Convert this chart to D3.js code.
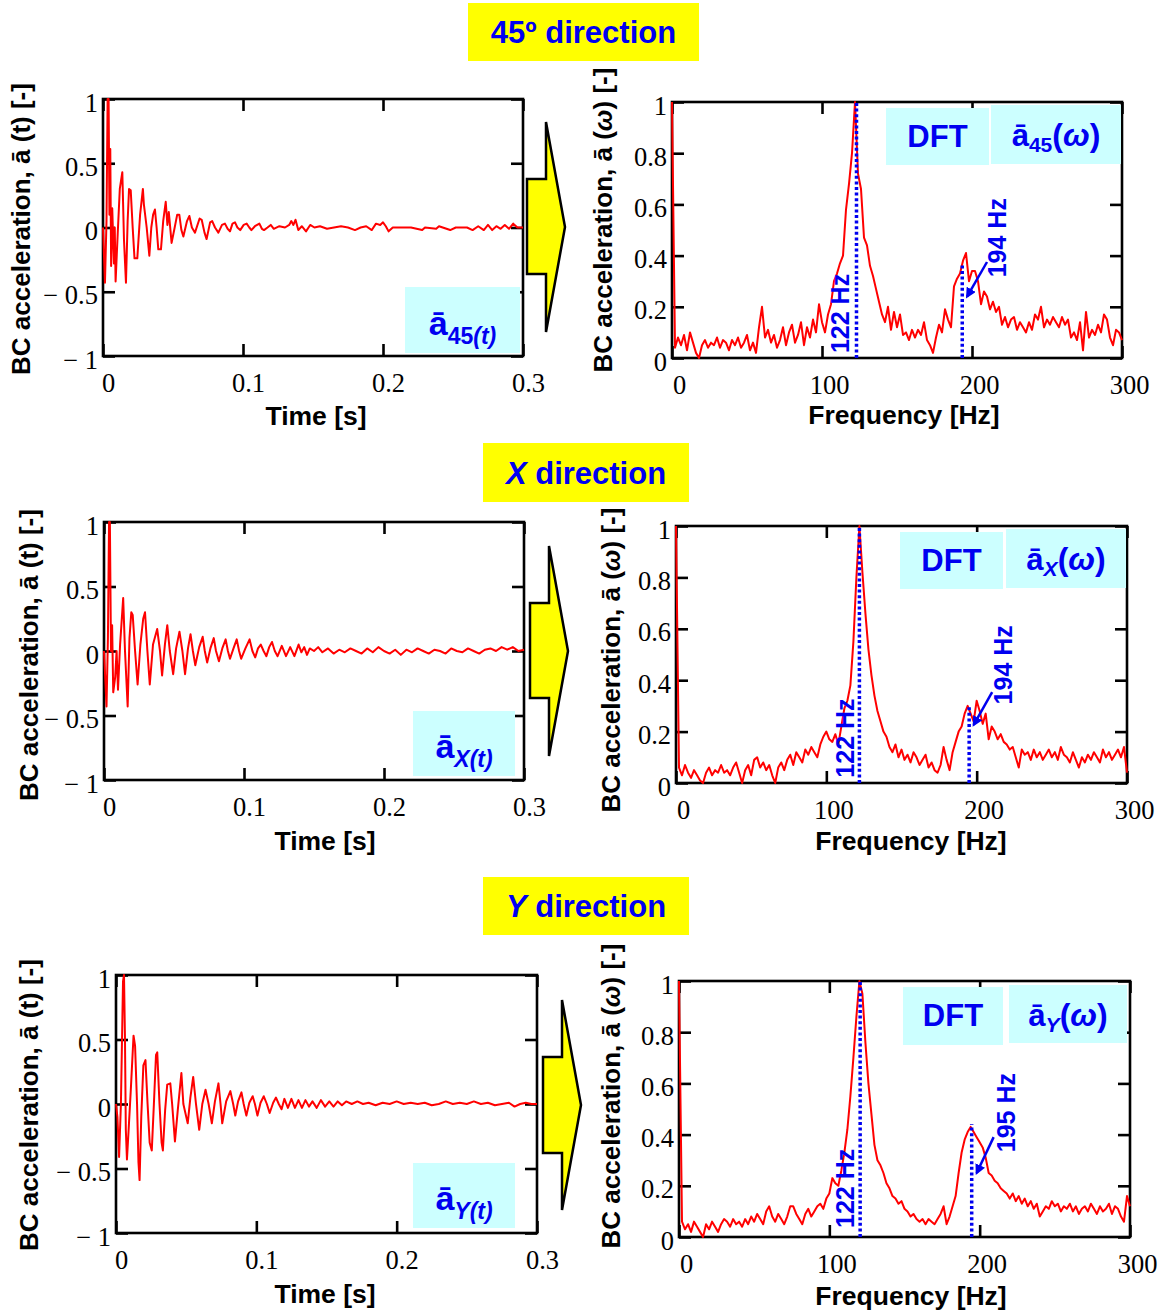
<!DOCTYPE html>
<html><head><meta charset="utf-8">
<script src="https://cdn.jsdelivr.net/npm/d3@7/dist/d3.min.js"></script>
<style>html,body{margin:0;padding:0;background:#fff;}svg{display:block;}</style>
</head><body>
<svg id="c" width="1164" height="1310"></svg>
<script>
// ================= DATA =================
const directions = ["45º", "X", "Y"];
const subscripts = ["45", "X", "Y"];

const timeTickValues = [0, 0.1, 0.2, 0.3];
const timeTickLabels = ["0", "0.1", "0.2", "0.3"];
const accTickValues = [-1, -0.5, 0, 0.5, 1];
const accTickLabels = ["− 1", "− 0.5", "0", "0.5", "1"];
const freqTickValues = [0, 100, 200, 300];
const freqTickLabels = ["0", "100", "200", "300"];
const specTickValues = [0, 0.2, 0.4, 0.6, 0.8, 1];
const specTickLabels = ["0", "0.2", "0.4", "0.6", "0.8", "1"];

// time histories [t (s), normalised acceleration]
const time45 = [[0,0],[0.0014,-0.43],[0.0025,0.05],[0.0033,1.0],[0.0040,1.0],[0.0046,0.1],[0.0052,0.61],[0.0058,-0.3],[0.0066,0.15],[0.0078,-0.28],[0.0084,0.0],[0.0090,-0.42],[0.0105,-0.05],[0.0120,0.30],[0.0138,0.43],[0.0150,-0.10],[0.0164,-0.43],[0.0176,0.05],[0.0186,0.30],[0.0198,0.29],[0.0212,0.0],[0.0225,-0.24],[0.0245,-0.24],[0.0265,0.10],[0.0285,0.30],[0.0292,0.18],[0.0312,0.0],[0.0331,-0.22],[0.0345,0.0],[0.0358,0.10],[0.0371,0.14],[0.0383,0.0],[0.0395,-0.17],[0.0414,-0.17],[0.0430,0.05],[0.0448,0.20],[0.0460,0.02],[0.0470,0.12],[0.0490,-0.12],[0.0512,0.0],[0.0530,0.10],[0.0545,0.10],[0.0560,-0.02],[0.0574,-0.07],[0.0600,0.05],[0.0617,0.09],[0.0635,0.0],[0.0657,-0.04],[0.0690,0.07],[0.0705,0.06],[0.0725,-0.04],[0.0740,-0.09],[0.0765,0.04],[0.0780,0.05],[0.0800,0.0],[0.0824,-0.04],[0.0850,0.02],[0.0871,0.03],[0.0890,-0.01],[0.0907,-0.03],[0.0925,0.03],[0.0943,0.04],[0.0960,0.0],[0.0980,-0.02],[0.1005,0.02],[0.1026,0.03],[0.1045,0.0],[0.1060,-0.02],[0.1085,0.01],[0.1117,0.03],[0.1135,-0.01],[0.1150,-0.02],[0.1175,0.0],[0.1198,0.02],[0.1220,-0.01],[0.1260,0.01],[0.1300,0.0],[0.1330,0.02],[0.1345,0.05],[0.1360,0.02],[0.1375,0.06],[0.1395,-0.02],[0.1420,0.01],[0.1450,-0.03],[0.1480,0.02],[0.1510,0.0],[0.1550,0.01],[0.1600,-0.01],[0.1650,0.0],[0.1700,0.01],[0.1750,0.0],[0.1800,-0.02],[0.1840,0.0],[0.1880,0.01],[0.1920,-0.02],[0.1950,0.03],[0.1980,0.02],[0.2000,0.04],[0.2020,0.01],[0.2040,-0.03],[0.2070,0.0],[0.2120,0.0],[0.2200,0.0],[0.2280,-0.02],[0.2300,0.0],[0.2380,-0.01],[0.2400,0.01],[0.2480,-0.02],[0.2520,0.0],[0.2600,0.0],[0.2640,-0.02],[0.2680,0.01],[0.2720,-0.02],[0.2750,0.02],[0.2780,-0.02],[0.2810,0.01],[0.2840,-0.01],[0.2870,0.02],[0.2900,-0.01],[0.2930,0.03],[0.2960,0.0],[0.3000,0.0]];

const timeX = [[0,0],[0.0018,-0.43],[0.0028,0.1],[0.0036,1.0],[0.0042,1.0],[0.0050,0.0],[0.0058,0.2],[0.0066,-0.32],[0.0080,-0.20],[0.0090,0.0],[0.0100,-0.3],[0.0115,0.05],[0.0137,0.41],[0.0150,0.0],[0.0169,-0.43],[0.0182,0.1],[0.0195,0.30],[0.0205,0.28],[0.0222,0.0],[0.0240,-0.26],[0.0260,0.05],[0.0280,0.25],[0.0293,0.30],[0.0310,0.0],[0.0327,-0.26],[0.0350,0.05],[0.0380,0.17],[0.0400,0.0],[0.0415,-0.19],[0.0435,0.05],[0.0452,0.20],[0.0470,0.0],[0.0494,-0.18],[0.0515,0.02],[0.0539,0.15],[0.0560,0.0],[0.0579,-0.18],[0.0600,0.02],[0.0618,0.13],[0.0635,0.0],[0.0652,-0.11],[0.0680,0.03],[0.0705,0.11],[0.0720,0.0],[0.0737,-0.09],[0.0760,0.02],[0.0784,0.10],[0.0800,0.0],[0.0821,-0.08],[0.0845,0.02],[0.0869,0.09],[0.0885,0.0],[0.0900,-0.06],[0.0925,0.02],[0.0948,0.09],[0.0965,0.0],[0.0980,-0.06],[0.1010,0.02],[0.1040,0.09],[0.1060,0.0],[0.1080,-0.05],[0.1100,0.02],[0.1120,0.05],[0.1140,0.0],[0.1160,-0.04],[0.1180,0.03],[0.1200,0.07],[0.1220,0.0],[0.1240,-0.04],[0.1270,0.04],[0.1300,-0.04],[0.1330,0.03],[0.1360,-0.04],[0.1390,0.05],[0.1410,-0.01],[0.1430,0.03],[0.1450,-0.03],[0.1470,0.02],[0.1500,0.0],[0.1530,0.03],[0.1560,-0.01],[0.1600,0.02],[0.1640,-0.02],[0.1680,0.01],[0.1720,-0.01],[0.1760,0.02],[0.1800,0.0],[0.1840,-0.02],[0.1880,0.02],[0.1920,-0.01],[0.1960,0.03],[0.2000,0.0],[0.2040,-0.02],[0.2080,0.01],[0.2120,-0.03],[0.2160,0.01],[0.2200,-0.01],[0.2240,0.02],[0.2280,0.0],[0.2320,-0.02],[0.2360,0.01],[0.2400,0.0],[0.2440,-0.02],[0.2480,0.02],[0.2520,0.0],[0.2560,-0.01],[0.2600,0.02],[0.2640,0.0],[0.2680,-0.02],[0.2720,0.01],[0.2760,0.02],[0.2800,0.0],[0.2840,0.03],[0.2880,0.01],[0.2920,0.03],[0.2960,0.0],[0.3000,0.01]];

const timeY = [[0,0],[0.0010,-0.1],[0.0022,-0.41],[0.0035,0.0],[0.0050,0.95],[0.0057,1.0],[0.0064,0.5],[0.0070,-0.2],[0.0078,-0.43],[0.0090,-0.2],[0.0105,0.1],[0.0125,0.53],[0.0136,0.45],[0.0150,0.0],[0.0160,-0.45],[0.0168,-0.59],[0.0180,-0.1],[0.0195,0.30],[0.0210,0.34],[0.0225,0.0],[0.0240,-0.30],[0.0255,-0.36],[0.0270,0.0],[0.0285,0.38],[0.0294,0.40],[0.0310,0.0],[0.0325,-0.30],[0.0334,-0.36],[0.0350,-0.05],[0.0365,0.15],[0.0387,0.16],[0.0400,0.0],[0.0420,-0.29],[0.0440,-0.05],[0.0466,0.24],[0.0480,0.0],[0.0511,-0.15],[0.0530,0.05],[0.0550,0.21],[0.0570,0.0],[0.0593,-0.20],[0.0615,0.0],[0.0638,0.11],[0.0660,0.0],[0.0683,-0.15],[0.0705,0.02],[0.0730,0.16],[0.0745,0.0],[0.0757,-0.15],[0.0785,0.02],[0.0815,0.10],[0.0835,0.0],[0.0850,-0.09],[0.0870,0.02],[0.0894,0.09],[0.0910,0.0],[0.0929,-0.09],[0.0950,0.01],[0.0974,0.06],[0.0990,0.0],[0.1008,-0.09],[0.1030,0.01],[0.1053,0.06],[0.1075,0.0],[0.1095,-0.07],[0.1120,0.01],[0.1140,0.05],[0.1160,0.0],[0.1180,-0.04],[0.1200,0.04],[0.1225,-0.03],[0.1250,0.04],[0.1275,-0.03],[0.1300,0.03],[0.1325,-0.03],[0.1350,0.03],[0.1375,-0.02],[0.1400,0.02],[0.1430,-0.03],[0.1460,0.03],[0.1490,-0.02],[0.1520,0.02],[0.1550,-0.02],[0.1580,0.02],[0.1610,-0.01],[0.1640,0.02],[0.1680,0.0],[0.1720,0.02],[0.1760,0.0],[0.1800,0.01],[0.1850,-0.01],[0.1900,0.01],[0.1950,0.0],[0.2000,0.02],[0.2050,0.0],[0.2100,0.01],[0.2150,0.0],[0.2200,0.01],[0.2250,-0.01],[0.2300,0.0],[0.2350,0.02],[0.2400,0.0],[0.2450,0.01],[0.2500,0.0],[0.2550,0.02],[0.2600,0.0],[0.2650,0.01],[0.2700,-0.01],[0.2750,0.0],[0.2800,0.01],[0.2840,-0.02],[0.2880,0.0],[0.2920,0.01],[0.2960,0.0],[0.3000,0.0]];

// DFT frequency grid (Hz) and amplitudes
const freqGrid = [0,2,4,6,8,10,12,14,16,18,20,22,24,26,28,30,32,34,36,38,40,42,44,46,48,50,52,54,56,58,60,62,64,66,68,70,72,74,76,78,80,82,84,86,88,90,92,94,96,98,100,102,104,106,108,110,112,114,116,118,120,122,124,126,128,130,132,134,136,138,140,142,144,146,148,150,152,154,156,158,160,162,164,166,168,170,172,174,176,178,180,182,184,186,188,190,192,194,196,198,200,202,204,206,208,210,212,214,216,218,220,222,224,226,228,230,232,234,236,238,240,242,244,246,248,250,252,254,256,258,260,262,264,266,268,270,272,274,276,278,280,282,284,286,288,290,292,294,296,298,300];

const spec45 = [1.00,0.04,0.08,0.05,0.09,0.03,0.10,0.06,0.02,0.00,
0.05,0.07,0.04,0.06,0.05,0.08,0.04,0.07,0.06,0.03,
0.07,0.05,0.08,0.04,0.06,0.09,0.03,0.06,0.02,0.12,
0.20,0.08,0.11,0.06,0.09,0.04,0.07,0.12,0.05,0.10,
0.13,0.06,0.09,0.14,0.05,0.12,0.08,0.15,0.10,0.21,
0.14,0.10,0.17,0.21,0.30,0.33,0.37,0.40,0.58,0.68,
0.80,1.00,0.72,0.66,0.47,0.44,0.36,0.32,0.27,0.22,
0.17,0.14,0.20,0.11,0.18,0.12,0.17,0.09,0.10,0.07,
0.11,0.08,0.11,0.09,0.14,0.07,0.05,0.02,0.08,0.13,
0.10,0.19,0.15,0.12,0.28,0.31,0.33,0.38,0.41,0.30,
0.34,0.34,0.30,0.21,0.26,0.24,0.19,0.22,0.18,0.20,
0.13,0.16,0.12,0.15,0.16,0.11,0.14,0.12,0.10,0.14,
0.11,0.17,0.15,0.20,0.12,0.15,0.13,0.16,0.14,0.12,
0.16,0.13,0.15,0.08,0.10,0.07,0.14,0.03,0.18,0.08,
0.11,0.09,0.13,0.10,0.17,0.15,0.08,0.05,0.11,0.10,
0.07];

const specX = [1.00,0.06,0.03,0.07,0.04,0.02,0.05,0.03,0.01,0.00,
0.04,0.06,0.03,0.05,0.04,0.07,0.04,0.05,0.03,0.06,
0.08,0.04,0.00,0.05,0.07,0.03,0.09,0.10,0.06,0.08,
0.05,0.07,0.03,0.00,0.06,0.08,0.05,0.09,0.11,0.07,
0.12,0.10,0.08,0.13,0.11,0.14,0.12,0.10,0.15,0.18,
0.20,0.17,0.16,0.19,0.15,0.22,0.29,0.32,0.38,0.55,
0.80,1.00,0.82,0.66,0.52,0.42,0.34,0.28,0.24,0.20,
0.18,0.14,0.12,0.15,0.10,0.13,0.09,0.11,0.08,0.12,
0.10,0.07,0.09,0.11,0.06,0.08,0.05,0.04,0.07,0.14,
0.09,0.05,0.12,0.16,0.20,0.22,0.27,0.30,0.27,0.24,
0.32,0.28,0.23,0.27,0.17,0.22,0.20,0.17,0.19,0.16,
0.15,0.13,0.14,0.10,0.06,0.13,0.11,0.12,0.09,0.13,
0.10,0.12,0.09,0.11,0.13,0.10,0.12,0.09,0.14,0.11,
0.10,0.08,0.12,0.09,0.06,0.10,0.08,0.11,0.09,0.12,
0.10,0.08,0.13,0.10,0.12,0.09,0.11,0.13,0.10,0.14,
0.04];

const specY = [1.00,0.06,0.03,0.05,0.02,0.06,0.04,0.02,0.00,0.05,
0.03,0.06,0.04,0.02,0.05,0.07,0.06,0.04,0.07,0.05,
0.06,0.04,0.07,0.05,0.08,0.06,0.09,0.07,0.05,0.10,
0.12,0.08,0.06,0.09,0.07,0.05,0.08,0.12,0.12,0.09,
0.07,0.05,0.09,0.11,0.08,0.10,0.12,0.13,0.11,0.15,
0.17,0.23,0.21,0.20,0.26,0.33,0.42,0.55,0.70,0.86,
1.00,0.95,0.76,0.60,0.48,0.36,0.30,0.28,0.25,0.21,
0.19,0.16,0.15,0.13,0.14,0.11,0.10,0.08,0.09,0.07,
0.06,0.07,0.05,0.07,0.06,0.05,0.07,0.09,0.12,0.05,
0.08,0.12,0.16,0.25,0.33,0.38,0.41,0.43,0.41,0.39,
0.37,0.35,0.31,0.25,0.24,0.22,0.21,0.19,0.18,0.17,
0.15,0.17,0.14,0.16,0.13,0.15,0.12,0.14,0.11,0.13,
0.08,0.10,0.12,0.11,0.14,0.12,0.13,0.10,0.12,0.11,
0.13,0.10,0.12,0.09,0.11,0.12,0.10,0.13,0.11,0.09,
0.12,0.10,0.11,0.13,0.09,0.12,0.11,0.08,0.06,0.16,
0.12];

// peak annotations
const peak1Labels = ["122 Hz", "122 Hz", "122 Hz"];
const peak1Freq = [123, 122, 120.5];
const peak2Labels = ["194 Hz", "194 Hz", "195 Hz"];
const peak2Freq = [193.5, 195, 194.7];
const peak2Level = [0.37, 0.30, 0.44];

// ================= LAYOUT =================
const layout = [
  { title:[468,3,231,58], tf:{x0:103,x1:523,y0:99,y1:356}, sf:{x0:672,x1:1122,y0:102,y1:358},
    tBox:[405,287,115,66], dftBox:[886,108,103,57], aBox:[991,105,130,59],
    arrow:{x0:527,x1:546,y0:179,y1:274,top:122,bot:332,tipX:565,tipY:227},
    yTitleT:[21,229], yTitleS:[603,220], xTitleT:[316,425], xTitleS:[904,424],
    p1Text:[112,0.174], p2Text:[216.7,0.47], arrFrom:[210,0.375], arrTo:[196.7,0.24] },
  { title:[483,443,206,59], tf:{x0:104,x1:524,y0:522,y1:780}, sf:{x0:676,x1:1127,y0:526,y1:783},
    tBox:[413,711,102,65], dftBox:[900,532,103,57], aBox:[1006,529,120,59],
    arrow:{x0:530,x1:549,y0:603,y1:698,top:546,bot:756,tipX:568,tipY:651},
    yTitleT:[29,655], yTitleS:[611,660], xTitleT:[325,850], xTitleS:[911,850],
    p1Text:[112.7,0.175], p2Text:[218,0.46], arrFrom:[210.3,0.354], arrTo:[198,0.226] },
  { title:[483,877,206,58], tf:{x0:116,x1:537,y0:975,y1:1233}, sf:{x0:679,x1:1130,y0:981,y1:1237},
    tBox:[413,1163,102,65], dftBox:[903,987,100,58], aBox:[1009,985,118,58],
    arrow:{x0:543,x1:562,y0:1057,y1:1153,top:1000,bot:1210,tipX:581,tipY:1105},
    yTitleT:[29,1105], yTitleS:[611,1096], xTitleT:[325,1303], xTitleS:[911,1305],
    p1Text:[110.7,0.19], p2Text:[218,0.486], arrFrom:[209.3,0.39], arrTo:[198,0.25] }
];

const timeSeries = [time45, timeX, timeY];
const spectra = [spec45, specX, specY];

const SANS = "'Liberation Sans', Arial, Helvetica, sans-serif";
const SERIF = "'Liberation Serif', 'Times New Roman', serif";
const BLUE = "#0000f0";
const RED = "#ff0000";
const CYAN = "#ccffff";
const YELLOW = "#ffff00";

const svg = d3.select("#c");
svg.append("defs").append("marker").attr("id","ah")
  .attr("viewBox","0 0 10 10").attr("refX",8).attr("refY",5)
  .attr("markerWidth",4.2).attr("markerHeight",4.2).attr("orient","auto")
  .append("path").attr("d","M0,0L10,5L0,10z").attr("fill",BLUE);

function styleAxis(sel) {
  sel.select(".domain").remove();
  sel.selectAll("line").attr("stroke","#000").attr("stroke-width",2.6);
  sel.selectAll("text").attr("font-family",SERIF).attr("font-size",26.5).attr("fill","#000");
}

function drawFrame(fr, x, y, xVals, xLabs, yVals, yLabs, xdx) {
  const g = svg.append("g");
  g.append("g").attr("transform",`translate(0,${fr.y1})`)
    .call(d3.axisBottom(x).tickValues(xVals).tickFormat((d,i)=>xLabs[i]).tickSizeInner(-12).tickSizeOuter(0).tickPadding(17))
    .call(styleAxis).selectAll("text").attr("dx", xdx);
  g.append("g").attr("transform",`translate(0,${fr.y0})`)
    .call(d3.axisTop(x).tickValues(xVals).tickFormat("").tickSizeInner(-12).tickSizeOuter(0))
    .call(styleAxis);
  g.append("g").attr("transform",`translate(${fr.x0},0)`)
    .call(d3.axisLeft(y).tickValues(yVals).tickFormat((d,i)=>yLabs[i]).tickSizeInner(-12).tickSizeOuter(0).tickPadding(5))
    .call(styleAxis).selectAll("text").attr("dy", 12);
  g.append("g").attr("transform",`translate(${fr.x1},0)`)
    .call(d3.axisRight(y).tickValues(yVals).tickFormat("").tickSizeInner(-12).tickSizeOuter(0))
    .call(styleAxis);
  g.append("rect").attr("x",fr.x0).attr("y",fr.y0).attr("width",fr.x1-fr.x0).attr("height",fr.y1-fr.y0)
    .attr("fill","none").attr("stroke","#000").attr("stroke-width",2.6);
}

function yTitle(pos, varName, italicVar) {
  const t = svg.append("text").attr("transform",`translate(${pos[0]},${pos[1]}) rotate(-90)`)
    .attr("text-anchor","middle").attr("dy","0.35em")
    .attr("font-family",SANS).attr("font-weight","bold").attr("font-size",26).attr("fill","#000");
  t.append("tspan").text("BC acceleration, ā (");
  t.append("tspan").attr("font-style", italicVar ? "italic" : "normal").text(varName);
  t.append("tspan").text(") [-]");
}

function xTitle(pos, txt) {
  svg.append("text").attr("x",pos[0]).attr("y",pos[1]).attr("text-anchor","middle")
    .attr("font-family",SANS).attr("font-weight","bold").attr("font-size",26.5).attr("fill","#000").text(txt);
}

layout.forEach((L, i) => {
  // ---- direction title ----
  const [tx,ty,tw,th] = L.title;
  svg.append("rect").attr("x",tx).attr("y",ty).attr("width",tw).attr("height",th).attr("fill",YELLOW);
  const tt = svg.append("text").attr("x",tx+tw/2).attr("y",ty+th/2+11).attr("text-anchor","middle")
    .attr("font-family",SANS).attr("font-weight","bold").attr("font-size",31).attr("fill",BLUE);
  if (i === 0) tt.append("tspan").text(directions[i]);
  else tt.append("tspan").attr("font-style","italic").text(directions[i]);
  tt.append("tspan").text(" direction");

  // ---- time history ----
  const tf = L.tf;
  const xT = d3.scaleLinear().domain([0,0.3]).range([tf.x0, tf.x1]);
  const yT = d3.scaleLinear().domain([-1,1]).range([tf.y1, tf.y0]);
  drawFrame(tf, xT, yT, timeTickValues, timeTickLabels, accTickValues, accTickLabels, 5);
  svg.append("path").datum(timeSeries[i])
    .attr("d", d3.line().x(d=>xT(d[0])).y(d=>yT(d[1])))
    .attr("fill","none").attr("stroke",RED).attr("stroke-width",2).attr("stroke-linejoin","round");
  yTitle(L.yTitleT, "t", false);
  xTitle(L.xTitleT, "Time [s]");
  // label box
  const [bx,by,bw,bh] = L.tBox;
  svg.append("rect").attr("x",bx).attr("y",by).attr("width",bw).attr("height",bh).attr("fill",CYAN);
  const lt = svg.append("text").attr("x",bx+bw/2).attr("y",by+bh-18).attr("text-anchor","middle")
    .attr("font-family",SANS).attr("font-weight","bold").attr("fill",BLUE);
  lt.append("tspan").attr("font-size",34).text("ā");
  lt.append("tspan").attr("font-size",23).attr("dy",9).attr("font-style", i===0 ? "normal":"italic").text(subscripts[i]);
  lt.append("tspan").attr("font-size",23).attr("font-style","italic").text("(t)");

  // ---- arrow ----
  const A = L.arrow;
  svg.append("path").attr("d",
    `M${A.x0},${A.y0}L${A.x1},${A.y0}L${A.x1},${A.top}L${A.tipX},${A.tipY}L${A.x1},${A.bot}L${A.x1},${A.y1}L${A.x0},${A.y1}Z`)
    .attr("fill",YELLOW).attr("stroke","#000").attr("stroke-width",2.5).attr("stroke-linejoin","miter");

  // ---- spectrum ----
  const sf = L.sf;
  const xS = d3.scaleLinear().domain([0,300]).range([sf.x0, sf.x1]);
  const yS = d3.scaleLinear().domain([0,1]).range([sf.y1, sf.y0]);
  drawFrame(sf, xS, yS, freqTickValues, freqTickLabels, specTickValues, specTickLabels, 7);
  svg.append("path").datum(spectra[i].map((a,k)=>[freqGrid[k], a]))
    .attr("d", d3.line().x(d=>xS(d[0])).y(d=>yS(d[1])))
    .attr("fill","none").attr("stroke",RED).attr("stroke-width",2).attr("stroke-linejoin","round");
  yTitle(L.yTitleS, "ω", true);
  xTitle(L.xTitleS, "Frequency [Hz]");

  // DFT / symbol boxes
  const [dx,dy,dw,dh] = L.dftBox;
  svg.append("rect").attr("x",dx).attr("y",dy).attr("width",dw).attr("height",dh).attr("fill",CYAN);
  svg.append("text").attr("x",dx+dw/2).attr("y",dy+39).attr("text-anchor","middle")
    .attr("font-family",SANS).attr("font-weight","bold").attr("font-size",31).attr("fill",BLUE).text("DFT");
  const [ax,ay,aw,ah] = L.aBox;
  svg.append("rect").attr("x",ax).attr("y",ay).attr("width",aw).attr("height",ah).attr("fill",CYAN);
  const at = svg.append("text").attr("x",ax+aw/2).attr("y",ay+41).attr("text-anchor","middle")
    .attr("font-family",SANS).attr("font-weight","bold").attr("fill",BLUE);
  at.append("tspan").attr("font-size",31).text("ā");
  at.append("tspan").attr("font-size",21).attr("dy",6).attr("font-style", i===0 ? "normal":"italic").text(subscripts[i]);
  at.append("tspan").attr("font-size",32).attr("dy",-6).text("(");
  at.append("tspan").attr("font-size",32).attr("font-style","italic").text("ω");
  at.append("tspan").attr("font-size",32).text(")");

  // peak markers
  svg.append("line").attr("x1",xS(peak1Freq[i])).attr("x2",xS(peak1Freq[i]))
    .attr("y1",yS(0)).attr("y2",yS(1))
    .attr("stroke",BLUE).attr("stroke-width",3.5).attr("stroke-dasharray","3 2.6");
  svg.append("line").attr("x1",xS(peak2Freq[i])).attr("x2",xS(peak2Freq[i]))
    .attr("y1",yS(0)).attr("y2",yS(peak2Level[i]))
    .attr("stroke",BLUE).attr("stroke-width",3.5).attr("stroke-dasharray","3 2.6");
  svg.append("line").attr("x1",xS(L.arrFrom[0])).attr("y1",yS(L.arrFrom[1]))
    .attr("x2",xS(L.arrTo[0])).attr("y2",yS(L.arrTo[1]))
    .attr("stroke",BLUE).attr("stroke-width",2.5).attr("marker-end","url(#ah)");
  svg.append("text").attr("transform",`translate(${xS(L.p1Text[0])},${yS(L.p1Text[1])}) rotate(-90)`)
    .attr("text-anchor","middle").attr("dy","0.35em")
    .attr("font-family",SANS).attr("font-weight","bold").attr("font-size",25).attr("fill",BLUE).text(peak1Labels[i]);
  svg.append("text").attr("transform",`translate(${xS(L.p2Text[0])},${yS(L.p2Text[1])}) rotate(-90)`)
    .attr("text-anchor","middle").attr("dy","0.35em")
    .attr("font-family",SANS).attr("font-weight","bold").attr("font-size",25).attr("fill",BLUE).text(peak2Labels[i]);
});
</script>
</body></html>
